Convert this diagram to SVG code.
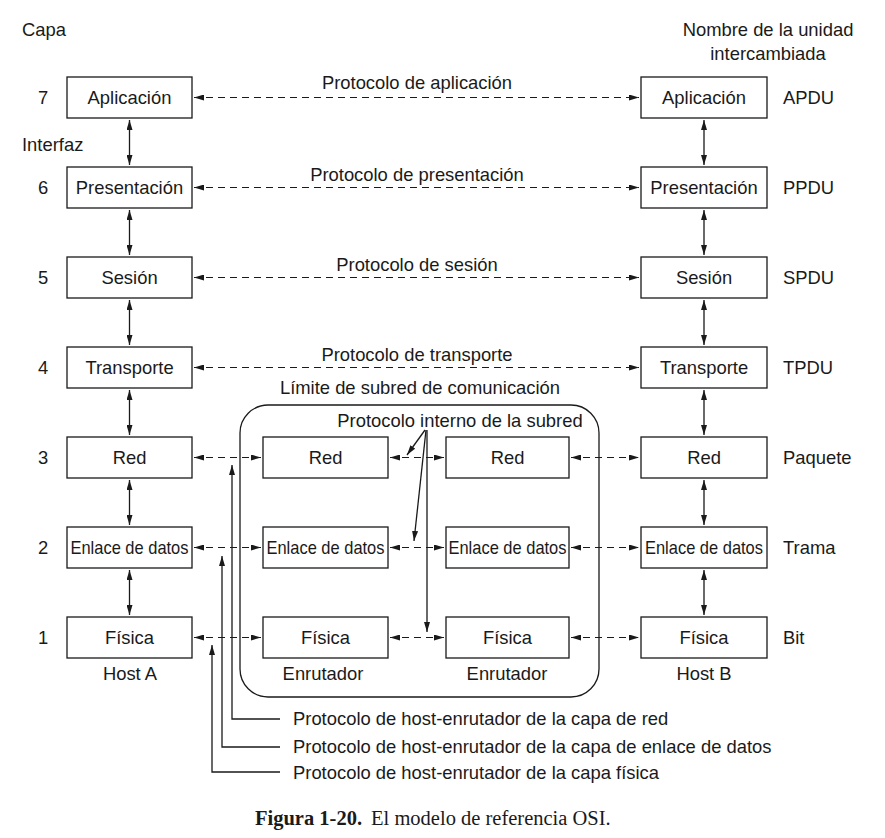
<svg xmlns="http://www.w3.org/2000/svg" width="885" height="838" viewBox="0 0 885 838">
<style>
text{font-family:"Liberation Sans",Arial,sans-serif;font-size:18.4px;fill:#1a1a1a}
.c{text-anchor:middle}
.box{fill:#fff;stroke:#1a1a1a;stroke-width:1.3}
.ln{stroke:#1a1a1a;stroke-width:1.3;fill:none}
.d{stroke:#1a1a1a;stroke-width:1.2;fill:none;stroke-dasharray:7 5}
.cap{font-family:"Liberation Serif","Times New Roman",serif;font-size:20.5px}
</style>
<defs>
<marker id="ah" viewBox="0 0 10 6" refX="10" refY="3" markerWidth="10" markerHeight="6" markerUnits="userSpaceOnUse" orient="auto-start-reverse">
<path d="M0,0 L10,3 L0,6 z" fill="#1a1a1a"/>
</marker>
</defs>
<g id="labels">
<text x="22" y="36">Capa</text>
<text x="768" y="36" class="c">Nombre de la unidad</text>
<text x="768" y="60" class="c">intercambiada</text>
<text x="22" y="151">Interfaz</text>
<text x="43" y="104" class="c">7</text>
<text x="43" y="194" class="c">6</text>
<text x="43" y="284" class="c">5</text>
<text x="43" y="374" class="c">4</text>
<text x="43" y="464" class="c">3</text>
<text x="43" y="554" class="c">2</text>
<text x="43" y="644" class="c">1</text>
<text x="783" y="104">APDU</text>
<text x="783" y="194">PPDU</text>
<text x="783" y="284">SPDU</text>
<text x="783" y="374">TPDU</text>
<text x="783" y="464">Paquete</text>
<text x="783" y="554">Trama</text>
<text x="783" y="644">Bit</text>
<text x="417" y="89" class="c">Protocolo de aplicación</text>
<text x="417" y="181" class="c">Protocolo de presentación</text>
<text x="417" y="271" class="c">Protocolo de sesión</text>
<text x="417" y="361" class="c">Protocolo de transporte</text>
<text x="420" y="394" class="c">Límite de subred de comunicación</text>
<text x="460" y="427" class="c">Protocolo interno de la subred</text>
<text x="130" y="680" class="c">Host A</text>
<text x="704" y="680" class="c">Host B</text>
<text x="323" y="680" class="c">Enrutador</text>
<text x="507" y="680" class="c">Enrutador</text>
<text x="293" y="725">Protocolo de host-enrutador de la capa de red</text>
<text x="293" y="753">Protocolo de host-enrutador de la capa de enlace de datos</text>
<text x="293" y="779">Protocolo de host-enrutador de la capa física</text>
<text x="255" y="825" class="cap"><tspan font-weight="bold">Figura 1-20.</tspan><tspan dx="9">El modelo de referencia OSI.</tspan></text>
</g>
<g id="subnet"><rect x="240" y="405" width="359" height="292" rx="28" class="ln"/></g>
<g id="hostA">
<rect class="box" x="67" y="77" width="125" height="41"/><text x="129.5" y="104" class="c">Aplicación</text>
<rect class="box" x="67" y="167" width="125" height="41"/><text x="129.5" y="194" class="c">Presentación</text>
<rect class="box" x="67" y="257" width="125" height="41"/><text x="129.5" y="284" class="c">Sesión</text>
<rect class="box" x="67" y="347" width="125" height="41"/><text x="129.5" y="374" class="c">Transporte</text>
<rect class="box" x="67" y="437" width="125" height="41"/><text x="129.5" y="464" class="c">Red</text>
<rect class="box" x="67" y="527" width="125" height="41"/><text x="129.5" y="554" class="c" textLength="118" lengthAdjust="spacingAndGlyphs">Enlace de datos</text>
<rect class="box" x="67" y="617" width="125" height="41"/><text x="129.5" y="644" class="c">Física</text>
</g>
<g id="router1">
<rect class="box" x="263" y="437" width="125" height="41"/><text x="325.5" y="464" class="c">Red</text>
<rect class="box" x="263" y="527" width="125" height="41"/><text x="325.5" y="554" class="c" textLength="118" lengthAdjust="spacingAndGlyphs">Enlace de datos</text>
<rect class="box" x="263" y="617" width="125" height="41"/><text x="325.5" y="644" class="c">Física</text>
</g>
<g id="router2">
<rect class="box" x="446" y="437" width="123" height="41"/><text x="507.5" y="464" class="c">Red</text>
<rect class="box" x="446" y="527" width="123" height="41"/><text x="507.5" y="554" class="c" textLength="118" lengthAdjust="spacingAndGlyphs">Enlace de datos</text>
<rect class="box" x="446" y="617" width="123" height="41"/><text x="507.5" y="644" class="c">Física</text>
</g>
<g id="hostB">
<rect class="box" x="641" y="77" width="126" height="41"/><text x="704" y="104" class="c">Aplicación</text>
<rect class="box" x="641" y="167" width="126" height="41"/><text x="704" y="194" class="c">Presentación</text>
<rect class="box" x="641" y="257" width="126" height="41"/><text x="704" y="284" class="c">Sesión</text>
<rect class="box" x="641" y="347" width="126" height="41"/><text x="704" y="374" class="c">Transporte</text>
<rect class="box" x="641" y="437" width="126" height="41"/><text x="704" y="464" class="c">Red</text>
<rect class="box" x="641" y="527" width="126" height="41"/><text x="704" y="554" class="c" textLength="118" lengthAdjust="spacingAndGlyphs">Enlace de datos</text>
<rect class="box" x="641" y="617" width="126" height="41"/><text x="704" y="644" class="c">Física</text>
</g>
<g id="connectors">
<g marker-start="url(#ah)" marker-end="url(#ah)">
<line class="ln" x1="129.5" y1="120" x2="129.5" y2="165"/>
<line class="ln" x1="129.5" y1="210" x2="129.5" y2="255"/>
<line class="ln" x1="129.5" y1="300" x2="129.5" y2="345"/>
<line class="ln" x1="129.5" y1="390" x2="129.5" y2="435"/>
<line class="ln" x1="129.5" y1="480" x2="129.5" y2="525"/>
<line class="ln" x1="129.5" y1="570" x2="129.5" y2="615"/>
<line class="ln" x1="704" y1="120" x2="704" y2="165"/>
<line class="ln" x1="704" y1="210" x2="704" y2="255"/>
<line class="ln" x1="704" y1="300" x2="704" y2="345"/>
<line class="ln" x1="704" y1="390" x2="704" y2="435"/>
<line class="ln" x1="704" y1="480" x2="704" y2="525"/>
<line class="ln" x1="704" y1="570" x2="704" y2="615"/>
<line class="d" x1="194" y1="97.5" x2="639" y2="97.5"/>
<line class="d" x1="194" y1="187.5" x2="639" y2="187.5"/>
<line class="d" x1="194" y1="277.5" x2="639" y2="277.5"/>
<line class="d" x1="194" y1="367.5" x2="639" y2="367.5"/>
<line class="d" x1="194" y1="457.5" x2="261" y2="457.5"/>
<line class="d" x1="194" y1="547.5" x2="261" y2="547.5"/>
<line class="d" x1="194" y1="637.5" x2="261" y2="637.5"/>
<line class="d" x1="390" y1="457.5" x2="444" y2="457.5"/>
<line class="d" x1="390" y1="547.5" x2="444" y2="547.5"/>
<line class="d" x1="390" y1="637.5" x2="444" y2="637.5"/>
<line class="d" x1="571" y1="457.5" x2="639" y2="457.5"/>
<line class="d" x1="571" y1="547.5" x2="639" y2="547.5"/>
<line class="d" x1="571" y1="637.5" x2="639" y2="637.5"/>
</g>
<g marker-end="url(#ah)">
<polyline class="ln" points="280,719 232,719 232,465"/>
<polyline class="ln" points="280,747 222,747 222,556"/>
<polyline class="ln" points="280,772 212,772 212,645"/>
<line class="ln" x1="425" y1="430" x2="407" y2="455"/>
<line class="ln" x1="426" y1="430" x2="414" y2="541"/>
<line class="ln" x1="427" y1="430" x2="427" y2="632"/>
</g>
</g>
</svg>
